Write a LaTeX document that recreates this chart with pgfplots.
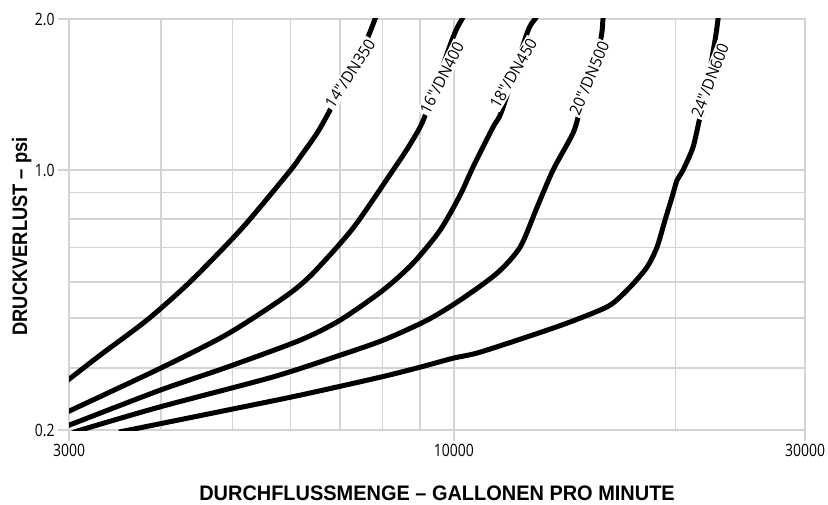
\documentclass[border=0pt]{standalone}
\usepackage{fontspec}
\setmainfont{Open Sans}
\newfontfamily\xlabelfont[FakeStretch=0.95]{Liberation Sans}
\newfontfamily\ylabelfont[FakeStretch=0.87]{Liberation Sans}
\newfontfamily\tickfont[FakeStretch=0.82]{Open Sans}
\newfontfamily\curvefont[FakeStretch=0.95]{Open Sans}
\usepackage{pgfplots}
\pgfplotsset{compat=1.18}
\definecolor{gridgray}{RGB}{212,212,212}
\tikzset{
  curvelab/.style={fill=white, inner sep=1.5bp,
    font=\curvefont\fontsize{16bp}{16bp}\selectfont},
  curve/.style={black, line width=5bp, mark=none, smooth, tension=0.45},
}

\begin{document}
\begin{tikzpicture}
\useasboundingbox (-69bp,-75bp) rectangle (759bp,430bp);
\begin{axis}[
    scale only axis,
    width=736bp, height=411bp,
    xmode=log, xmin=3000, xmax=30000,
    xtick={3000,10000,30000}, xticklabels={3000,10000,30000},
    minor xtick={4000,5000,6000,7000,8000,9000,20000},
    % the printed psi scale is stretched above 1.0
    y coord trafo/.code={\pgfmathparse{#1<=1 ? 161.56*ln(#1) : 218.0*ln(#1)}},
    y coord inv trafo/.code={\pgfmathparse{#1<=0 ? exp(#1/161.56) : exp(#1/218.0)}},
    ymin=0.2, ymax=2,
    ytick={0.2,1,2}, yticklabels={0.2,1.0,2.0},
    minor ytick={0.294,0.4,0.5,0.62,0.74,0.87},
    grid=both,
    grid style={draw=gridgray, line width=1.6bp},
    minor grid style={draw=gridgray, line width=1.6bp},
    axis line style={draw=gridgray, line width=1.6bp},
    tick pos=left, tick align=outside,
    major tick length=11bp, minor tick length=0pt,
    tick style={draw=gridgray, line width=1.6bp},
    ticklabel style={font=\tickfont\fontsize{17bp}{17bp}\selectfont},
    xlabel={DURCHFLUSSMENGE – GALLONEN PRO MINUTE},
    ylabel={DRUCKVERLUST – psi},
    xlabel style={font=\xlabelfont\bfseries\fontsize{21bp}{21bp}\selectfont,
        at={(axis description cs:0.5,-0.1727)}, anchor=base},
    ylabel style={font=\ylabelfont\bfseries\fontsize{21bp}{21bp}\selectfont,
        at={(axis description cs:-0.0571,0.471)}, anchor=base},
]
% 14"/DN350
\addplot[curve] coordinates {(2953,0.2678) (3000,0.2742) (3306,0.3181) (3826,0.3950)
    (4381,0.5008) (5151,0.6970) (5990,0.9956) (6181,1.0614) (6518,1.1849)
    (6787,1.3167) (7574,1.7906) (7815,2.0) (7913,2.09)};
% 16"/DN400
\addplot[curve] coordinates {(2953,0.2216) (3000,0.2250) (3987,0.2930) (4812,0.3535)
    (5335,0.4000) (5990,0.4670) (6437,0.5285) (7294,0.6983) (8268,1.0)
    (8665,1.1087) (8997,1.2180) (9196,1.3167) (9976,1.8404) (10259,2.0) (10387,2.08)};
% 18"/DN450
\addplot[curve] coordinates {(2953,0.2039) (3000,0.2063) (3987,0.2561) (4918,0.2954)
    (6181,0.3491) (7003,0.3950) (8013,0.4757) (8802,0.5623) (9579,0.6896)
    (10196,0.8565) (10617,1.0139) (11304,1.2180) (11627,1.3167) (12574,1.8746)
    (12893,2.0) (13096,2.08)};
% 20"/DN500
\addplot[curve] coordinates {(3057,0.1973) (3105,0.2) (3987,0.2310) (5679,0.2781)
    (7003,0.3181) (8013,0.3491) (9196,0.3950) (10196,0.4472) (11447,0.5285)
    (12301,0.6208) (12974,0.7953) (13637,1.0) (14517,1.1849) (14840,1.3167)
    (15799,1.7988) (15945,2.0) (16001,2.07)};
% 24"/DN600
\addplot[curve] coordinates {(3518,0.198) (3609,0.2) (4918,0.2264) (6181,0.2484)
    (7939,0.2776) (8997,0.2954) (9976,0.3123) (10853,0.3241) (13384,0.3714)
    (14840,0.4000) (16300,0.4335) (17351,0.4847) (18300,0.5485) (18882,0.6208)
    (19361,0.7336) (19790,0.8459) (20102,0.9398) (20482,1.0) (21133,1.1113)
    (21600,1.2752) (21804,1.3167) (22638,1.8154) (22852,2.0) (22923,2.07)};

\node[curvelab, rotate=57] at (axis cs:7228,1.558) {14"/DN350};
\node[curvelab, rotate=63] at (axis cs:9630,1.5265) {16"/DN400};
\node[curvelab, rotate=60] at (axis cs:12046,1.558) {18"/DN450};
\node[curvelab, rotate=67] at (axis cs:15274,1.523) {20"/DN500};
\node[curvelab, rotate=69] at (axis cs:22287,1.511) {24"/DN600};
\end{axis}
\end{tikzpicture}
\end{document}
